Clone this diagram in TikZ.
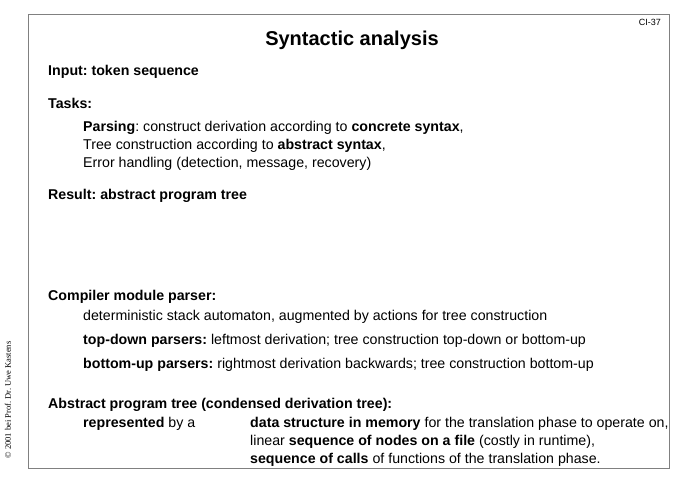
\documentclass[tikz,border=0pt]{standalone}
\usepackage{fontspec}
\setmainfont{Liberation Sans}
\newfontfamily\copyfont{Liberation Serif}
\frenchspacing
\begin{document}
\begin{tikzpicture}[x=1pt,y=-1pt,
    txt/.style={anchor=west,inner sep=0pt,font=\fontsize{14.2}{17}\selectfont},
    head/.style={txt,font=\fontsize{14.2}{17}\selectfont\bfseries}]
    % Frame
    \useasboundingbox (0,0) rectangle (678,480);
    \draw[gray,line width=0.8pt] (28,14) rectangle (669,468);
    \node[anchor=east,inner sep=0pt,font=\fontsize{9}{10}\selectfont] (num) at (661,22) {CI-37};
    \node[inner sep=0pt,font=\fontsize{20}{24}\selectfont\bfseries] (title) at (352,40) {Syntactic analysis};

    % Tasks
    \node[head] (input) at (48,72) {Input: token sequence};
    \node[head] (tasks) at (48,103) {Tasks:};
    \node[txt] (t1) at (83,128) {\textbf{Parsing}: construct derivation according to \textbf{concrete syntax},};
    \node[txt] (t2) at (83,146) {Tree construction according to \textbf{abstract syntax},};
    \node[txt] (t3) at (83,164) {Error handling (detection, message, recovery)};
    \node[head] (result) at (48,196) {Result: abstract program tree};

    % Parser
    \node[head] (parser) at (48,297) {Compiler module parser:};
    \node[txt] (p1) at (83,317) {deterministic stack automaton, augmented by actions for tree construction};
    \node[txt] (p2) at (83,341) {\textbf{top-down parsers:} leftmost derivation; tree construction top-down or bottom-up};
    \node[txt] (p3) at (83,365) {\textbf{bottom-up parsers:} rightmost derivation backwards; tree construction bottom-up};

    % Tree
    \node[head] (tree) at (48,405) {Abstract program tree (condensed derivation tree):};
    \node[txt] (r0) at (83,424) {\textbf{represented} by a};
    \node[txt] (r1) at (250,424) {\textbf{data structure in memory} for the translation phase to operate on,};
    \node[txt] (r2) at (250,442) {linear \textbf{sequence of nodes on a file} (costly in runtime),};
    \node[txt] (r3) at (250,460) {\textbf{sequence of calls} of functions of the translation phase.};

    \node[rotate=90,inner sep=0pt,font=\copyfont\fontsize{8.5}{9}\selectfont] (copy) at (8,400) {© 2001 bei Prof. Dr. Uwe Kastens};
\end{tikzpicture}
\end{document}
